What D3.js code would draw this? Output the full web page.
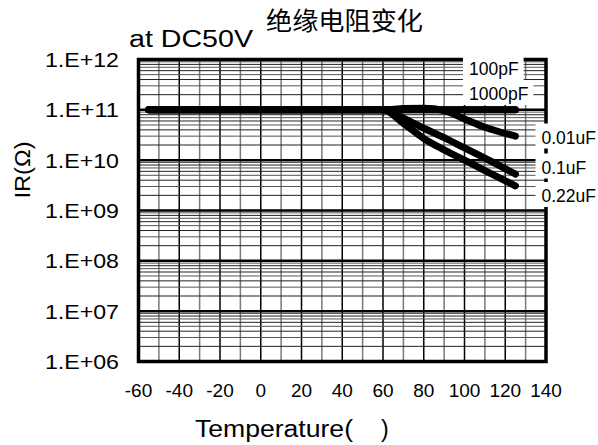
<!DOCTYPE html>
<html>
<head>
<meta charset="utf-8">
<script src="https://cdn.jsdelivr.net/npm/d3@7"></script>
<style>
body { margin:0; background:#fff; }
text { font-family:"Liberation Sans", Arial, sans-serif; fill:#000; }
</style>
</head>
<body>
<svg id="chart"></svg>
<script>
// values (temperature in C, IR in ohm)
var tempFlat = [-55, 60, 125];
var ir100pF  = [1e11, 1e11, 1e11];
var ir1000pF = [1e11, 1e11, 1e11];

var tempCurve = [-55, 60, 70, 80, 90, 100, 110, 125];
var ir001uF = [1e11, 1e11, 1.06e11, 1.08e11, 0.97e11, 6.6e10, 4.5e10, 3.0e10];
var ir01uF  = [1e11, 1e11, 6.8e10, 4.3e10, 2.8e10, 1.75e10, 1.1e10, 5.3e9];
var ir022uF = [1e11, 1e11, 5.4e10, 2.7e10, 1.6e10, 1.0e10, 6.2e9, 3.1e9];

var seriesNames = ["100pF", "1000pF", "0.01uF", "0.1uF", "0.22uF"];

var xTicks = [-60, -40, -20, 0, 20, 40, 60, 80, 100, 120, 140];
var yTicks = [1e6, 1e7, 1e8, 1e9, 1e10, 1e11, 1e12];
var yTickLabels = ["1.E+06", "1.E+07", "1.E+08", "1.E+09", "1.E+10", "1.E+11", "1.E+12"];


var initGraph = function(target)
{
    var screen = {width:598, height:445};
    var plot = {left:138.5, right:546, top:59.5, bottom:361.5};

    var svg = d3.select(target)
        .attr("width", screen.width)
        .attr("height", screen.height);

    var xScale = d3.scaleLinear()
        .domain([-60, 140])
        .range([plot.left, plot.right]);

    var yScale = d3.scaleLog()
        .domain([1e6, 1e12])
        .range([plot.bottom, plot.top]);

    drawGrid(svg, xScale, yScale, plot);
    drawLines(svg, xScale, yScale);

    // frame
    svg.append("rect")
        .attr("x", plot.left)
        .attr("y", plot.top)
        .attr("width", plot.right - plot.left)
        .attr("height", plot.bottom - plot.top)
        .attr("fill", "none")
        .attr("stroke", "#000")
        .attr("stroke-width", 3.5);

    createAxes(svg, xScale, yScale);
    drawLabels(svg);
    drawTitles(svg);
}

var drawGrid = function(svg, xScale, yScale, plot)
{
    var grid = svg.append("g").classed("grid", true);

    var xGrid = d3.range(-50, 140, 10);
    grid.selectAll(".vline")
        .data(xGrid)
        .enter()
        .append("line")
        .classed("vline", true)
        .attr("x1", function(d) { return xScale(d); })
        .attr("x2", function(d) { return xScale(d); })
        .attr("y1", plot.top)
        .attr("y2", plot.bottom)
        .attr("stroke", function(d) { return d % 20 == 0 ? "#000" : "#7a7a7a"; })
        .attr("stroke-width", 1.5);

    grid.selectAll(".hline")
        .data(yScale.ticks())
        .enter()
        .append("line")
        .classed("hline", true)
        .attr("x1", plot.left)
        .attr("x2", plot.right)
        .attr("y1", function(d) { return yScale(d); })
        .attr("y2", function(d) { return yScale(d); })
        .attr("stroke", function(d) {
            var m = Math.round(d / Math.pow(10, Math.floor(Math.log10(d) + 1e-9)));
            return m == 1 ? "#000" : (m % 2 == 0 ? "#222" : "#555");
        })
        .attr("stroke-width", function(d) {
            var m = Math.round(d / Math.pow(10, Math.floor(Math.log10(d) + 1e-9)));
            return m == 1 ? 2.5 : 1;
        });
}

var drawLines = function(svg, xScale, yScale)
{
    var series = [
        {t:tempFlat,  v:ir100pF},
        {t:tempFlat,  v:ir1000pF},
        {t:tempCurve, v:ir001uF},
        {t:tempCurve, v:ir01uF},
        {t:tempCurve, v:ir022uF}
    ];

    var line = d3.line()
        .x(function(p) { return xScale(p[0]); })
        .y(function(p) { return yScale(p[1]); })
        .curve(d3.curveMonotoneX);

    svg.append("g")
        .classed("lines", true)
        .selectAll("path")
        .data(series)
        .enter()
        .append("path")
        .attr("d", function(s) {
            return line(s.t.map(function(t, i) { return [t, s.v[i]]; }));
        })
        .attr("fill", "none")
        .attr("stroke", "#000")
        .attr("stroke-width", 7)
        .attr("stroke-linecap", "round")
        .attr("stroke-linejoin", "round");
}

var createAxes = function(svg, xScale, yScale)
{
    svg.append("g")
        .selectAll("text")
        .data(xTicks)
        .enter()
        .append("text")
        .attr("x", function(d) { return xScale(d); })
        .attr("y", 397)
        .attr("text-anchor", "middle")
        .style("font-size", "19px")
        .text(function(d) { return d; });

    svg.append("g")
        .selectAll("text")
        .data(yTicks)
        .enter()
        .append("text")
        .attr("x", 119)
        .attr("y", function(d) { return yScale(d) + 7.5; })
        .attr("text-anchor", "end")
        .attr("textLength", 74)
        .attr("lengthAdjust", "spacingAndGlyphs")
        .style("font-size", "21px")
        .text(function(d, i) { return yTickLabels[i]; });
}

var drawLabels = function(svg)
{
    // where each series name sits, with its white box
    var spots = [
        {x:469,   y:75},
        {x:469,   y:100},
        {x:541.5, y:143.5},
        {x:541.5, y:173.5},
        {x:541.5, y:202}
    ];

    var g = svg.append("g").classed("labels", true);

    seriesNames.forEach(function(name, i)
    {
        var box = g.append("rect").attr("fill", "#fff");
        var t = g.append("text")
            .attr("x", spots[i].x)
            .attr("y", spots[i].y)
            .style("font-size", "17.5px")
            .text(name);
        var b = t.node().getBBox();
        box.attr("x", b.x - 6)
            .attr("y", b.y - 4)
            .attr("width", b.width + 11)
            .attr("height", b.height + 5);
    });
}

var drawTitles = function(svg)
{
    svg.append("text")
        .attr("x", 266)
        .attr("y", 30)
        .attr("textLength", 157)
        .attr("lengthAdjust", "spacingAndGlyphs")
        .style("font-family", "'Noto Sans CJK SC', sans-serif")
        .style("font-size", "25px")
        .text("绝缘电阻变化");

    svg.append("text")
        .attr("x", 129)
        .attr("y", 47)
        .attr("textLength", 124)
        .attr("lengthAdjust", "spacingAndGlyphs")
        .style("font-size", "23.5px")
        .text("at DC50V");

    svg.append("text")
        .attr("x", 195)
        .attr("y", 437)
        .attr("textLength", 158)
        .attr("lengthAdjust", "spacingAndGlyphs")
        .style("font-size", "23px")
        .text("Temperature(");

    svg.append("text")
        .attr("x", 381)
        .attr("y", 437)
        .style("font-size", "23px")
        .text(")");

    svg.append("text")
        .attr("transform", "translate(29.5,170) rotate(-90)")
        .attr("text-anchor", "middle")
        .attr("textLength", 57)
        .attr("lengthAdjust", "spacingAndGlyphs")
        .style("font-size", "22px")
        .text("IR(Ω)");
}

initGraph("#chart");
</script>
</body>
</html>
